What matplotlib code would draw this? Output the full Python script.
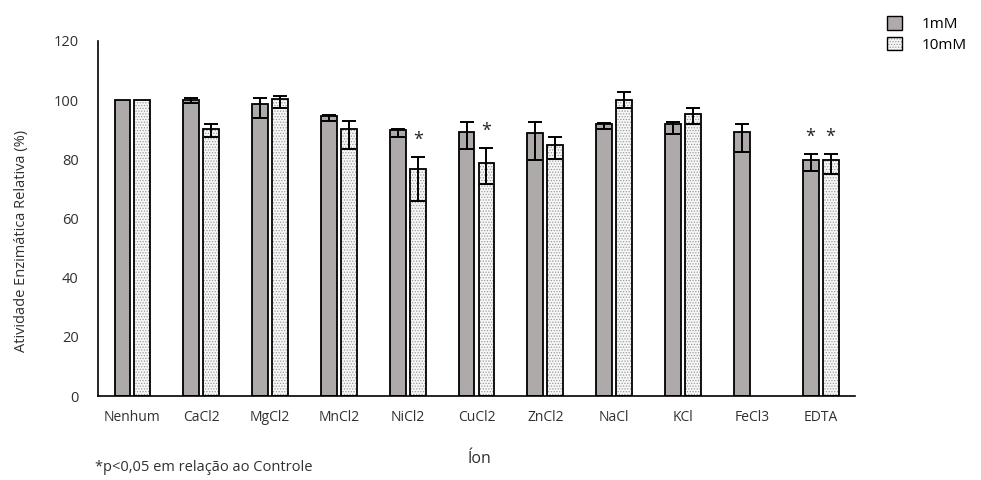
import numpy as np
import matplotlib
matplotlib.use("Agg")
import matplotlib.pyplot as plt
from matplotlib.patches import Patch

plt.rcParams['font.family'] = ['Open Sans', 'DejaVu Sans']
plt.rcParams['hatch.color'] = '#9a9a9a'
plt.rcParams['hatch.linewidth'] = 0.6

ions = ["Nenhum", "CaCl2", "MgCl2", "MnCl2", "NiCl2", "CuCl2",
        "ZnCl2", "NaCl", "KCl", "FeCl3", "EDTA"]
vals_1mm = [100, 100, 98.6, 94.5, 89.9, 89.1, 88.9, 91.9, 91.9, 89.1, 79.9]
vals_10mm = [100, 90.4, 100.4, 90.2, 76.6, 78.7, 84.9, 100.2, 95.3, np.nan, 79.7]
# errors as (upper, lower)
err_up_1mm = [0, 0.8, 2.2, 0.5, 0.4, 3.6, 3.6, 0.4, 0.7, 2.9, 1.9]
err_lo_1mm = [0, 1.1, 4.6, 1.7, 2.3, 5.6, 9.2, 1.8, 3.2, 6.7, 3.8]
err_up_10mm = [0, 1.7, 1.1, 2.9, 4.3, 5.1, 2.5, 2.6, 2.1, 0, 2.1]
err_lo_10mm = [0, 2.8, 3.1, 6.7, 10.6, 7.0, 4.8, 2.9, 3.5, 0, 4.5]
# significance marks: (ion index, series 0=1mM / 1=10mM)
stars = [(4, 1), (5, 1), (10, 0), (10, 1)]

fig = plt.figure(figsize=(9.81, 4.8), dpi=100)
ax = fig.add_axes([0.0999, 0.175, 0.7717, 0.7396])

x = np.arange(len(ions))
w = 0.23
off = 0.145
gray = '#aeaaaa'
txt = '#303030'

ax.bar(x - off, vals_1mm, w, color=gray, edgecolor='black', linewidth=1.3, zorder=2)
ax.bar(x + off, vals_10mm, w, color='#f7f7f7', edgecolor='#9a9a9a', hatch='......',
       linewidth=0, zorder=2)
ax.bar(x + off, vals_10mm, w, fill=False, edgecolor='black', linewidth=1.3, zorder=3)

ekw = dict(fmt='none', ecolor='black', elinewidth=1.4, capsize=5, capthick=1.4, zorder=4)
m1 = np.array(err_up_1mm) + np.array(err_lo_1mm) > 0
m2 = (np.array(err_up_10mm) + np.array(err_lo_10mm) > 0) & ~np.isnan(vals_10mm)
ax.errorbar((x - off)[m1], np.array(vals_1mm)[m1],
            yerr=[np.array(err_lo_1mm)[m1], np.array(err_up_1mm)[m1]], **ekw)
ax.errorbar((x + off)[m2], np.array(vals_10mm)[m2],
            yerr=[np.array(err_lo_10mm)[m2], np.array(err_up_10mm)[m2]], **ekw)

for i, s in stars:
    if s == 0:
        xs, top = x[i] - off, vals_1mm[i] + err_up_1mm[i]
    else:
        xs, top = x[i] + off, vals_10mm[i] + err_up_10mm[i]
    ax.text(xs, top + 5.8, "*", ha='center', va='center', fontsize=13, color='#222222')

ax.set_xlim(-0.5, len(ions) - 0.5)
ax.set_ylim(0, 120)
ax.set_yticks(np.arange(0, 121, 20))
ax.set_xticks(x)
ax.set_xticklabels(ions)
ax.tick_params(axis='x', length=0, labelsize=10, colors=txt, pad=10)
ax.tick_params(axis='y', length=0, labelsize=10.5, colors=txt, pad=14)
ax.spines['top'].set_visible(False)
ax.spines['right'].set_visible(False)
ax.spines['left'].set_linewidth(1.2)
ax.spines['bottom'].set_linewidth(1.2)

ax.set_ylabel("Atividade Enzimática Relativa (%)", fontsize=10.5, color=txt)
ax.yaxis.set_label_coords(-0.091, 0.437)
ax.set_xlabel("Íon", fontsize=11.5, color=txt)
ax.xaxis.set_label_coords(0.504, -0.155)
fig.text(0.097, 0.018, "*p<0,05 em relação ao Controle", fontsize=10.5, color=txt)

h1 = Patch(facecolor=gray, edgecolor='black', linewidth=1.0)
h2a = Patch(facecolor='#f7f7f7', edgecolor='#9a9a9a', hatch='......', linewidth=0)
h2b = Patch(fill=False, edgecolor='black', linewidth=1.0)
fig.legend([h1, (h2a, h2b)], ["1mM", "10mM"], loc='upper left',
           bbox_to_anchor=(0.89, 0.995), frameon=False, fontsize=11,
           handlelength=1.0, handleheight=1.0, handletextpad=1.3, labelspacing=0.3)

fig.savefig("out.png", dpi=100)
